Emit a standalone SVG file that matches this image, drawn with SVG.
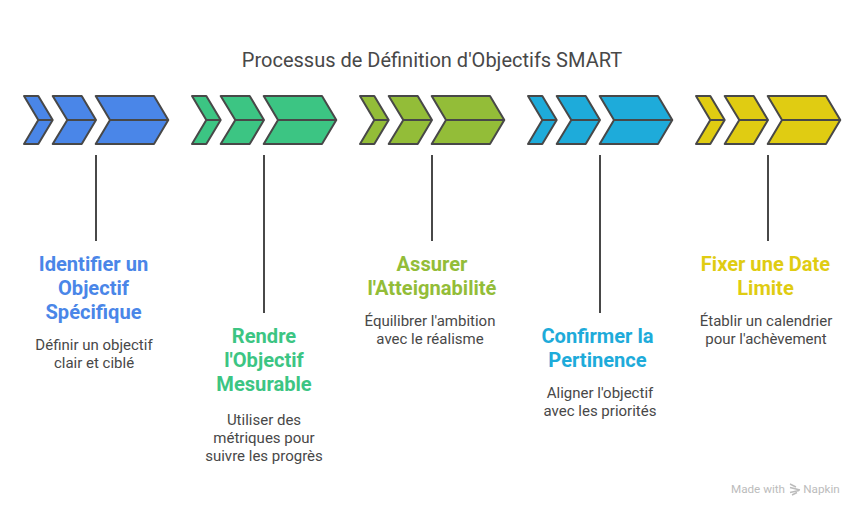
<svg xmlns="http://www.w3.org/2000/svg" xmlns:xlink="http://www.w3.org/1999/xlink" width="864" height="516" viewBox="0 0 864 516">
<style>
text{font-family:Roboto,"Liberation Sans",sans-serif;text-anchor:middle}
.t{font-size:20px;fill:#484848}
.h{font-size:20.1px;font-weight:700}
.d{font-size:15px;fill:#484848}
.c path{stroke:#484848;stroke-width:2;stroke-linejoin:round;fill:inherit}
.l{stroke:#484848;stroke-width:2;fill:none}
.b{fill:#4a86e8}.g{fill:#3cc583}.o{fill:#93bd38}.y{fill:#1eabda}.j{fill:#e0cc12}
.m{font-size:11.7px;fill:#bcbcbc}
</style>
<defs>
<g id="ch" class="c">
<path d="M24 96H38.3L52.7 120L38.3 144H24L38.3 120Z"/>
<path d="M38.3 120H52.7"/>
<path d="M52.7 96H81.7L96 120L81.7 144H52.7L67.3 120Z"/>
<path d="M67.3 120H96"/>
<path d="M95.7 96H154L168.3 120L154 144H95.7L110 120Z"/>
<path d="M110 120H168.3"/>
</g>
</defs>
<rect width="864" height="516" fill="#fff"/>
<text class="t" x="432" y="67">Processus de Définition d'Objectifs SMART</text>
<g id="connectors">
<path class="l" d="M96 155V241"/>
<path class="l" d="M264 155V313"/>
<path class="l" d="M432 155V241"/>
<path class="l" d="M600 155V313"/>
<path class="l" d="M768 155V241"/>
</g>
<g id="node-specifique">
<use xlink:href="#ch" href="#ch" class="b"/>
<text class="h" fill="#4a86e8"><tspan x="93.5" y="271">Identifier un</tspan><tspan x="93.5" y="295">Objectif</tspan><tspan x="93.5" y="319">Spécifique</tspan></text>
<text class="d"><tspan x="94" y="350">Définir un objectif</tspan><tspan x="94" y="368">clair et ciblé</tspan></text>
</g>
<g id="node-mesurable">
<use xlink:href="#ch" href="#ch" x="168" class="g"/>
<text class="h" fill="#3cc583"><tspan x="264" y="343">Rendre</tspan><tspan x="264" y="367">l'Objectif</tspan><tspan x="264" y="391">Mesurable</tspan></text>
<text class="d"><tspan x="264" y="425">Utiliser des</tspan><tspan x="264" y="443">métriques pour</tspan><tspan x="264" y="461">suivre les progrès</tspan></text>
</g>
<g id="node-atteignable">
<use xlink:href="#ch" href="#ch" x="336" class="o"/>
<text class="h" fill="#93bd38"><tspan x="432" y="271">Assurer</tspan><tspan x="432" y="295">l'Atteignabilité</tspan></text>
<text class="d"><tspan x="430" y="326">Équilibrer l'ambition</tspan><tspan x="430" y="344">avec le réalisme</tspan></text>
</g>
<g id="node-pertinence">
<use xlink:href="#ch" href="#ch" x="504" class="y"/>
<text class="h" fill="#1eabda"><tspan x="597.5" y="343">Confirmer la</tspan><tspan x="597.5" y="367">Pertinence</tspan></text>
<text class="d"><tspan x="600" y="398">Aligner l'objectif</tspan><tspan x="600" y="416">avec les priorités</tspan></text>
</g>
<g id="node-date">
<use xlink:href="#ch" href="#ch" x="672" class="j"/>
<text class="h" fill="#e0cc12"><tspan x="765.5" y="271">Fixer une Date</tspan><tspan x="765.5" y="295">Limite</tspan></text>
<text class="d"><tspan x="766" y="326">Établir un calendrier</tspan><tspan x="766" y="344">pour l'achèvement</tspan></text>
</g>
<g id="watermark">
<text class="m" x="758" y="493">Made with</text>
<path d="M790 484L796 487M790 487.5L800 490M799 490.5L790 492.5M797 492.5L792 495" stroke="#bcbcbc" stroke-width="1.4" fill="none"/>
<text class="m" x="821.5" y="493">Napkin</text>
</g>
</svg>
